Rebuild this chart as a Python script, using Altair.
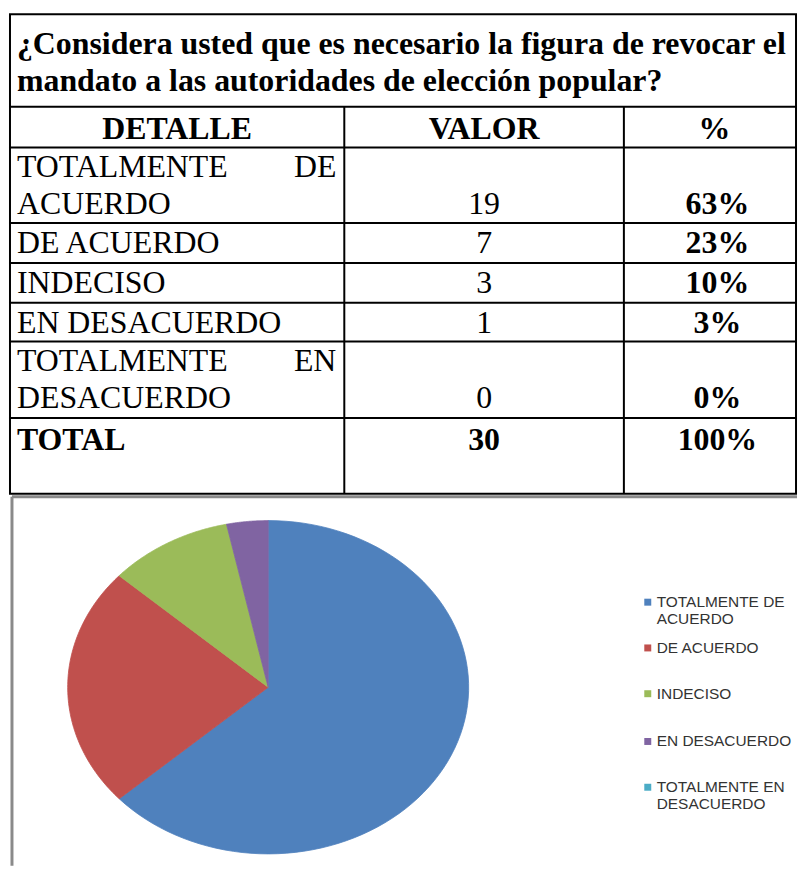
import altair as alt
import pandas as pd

# ---------------- data ----------------
question = ["¿Considera usted que es necesario la figura de revocar el",
            "mandato a las autoridades de elección popular?"]
headers = ["DETALLE", "VALOR", "%"]
categories = ["TOTALMENTE DE ACUERDO", "DE ACUERDO", "INDECISO",
              "EN DESACUERDO", "TOTALMENTE EN DESACUERDO"]
values = [19, 7, 3, 1, 0]
percents = ["63%", "23%", "10%", "3%", "0%"]
total_label = "TOTAL"
total_value = 30
total_percent = "100%"
colors = ["#4F81BD", "#C0504D", "#9BBB59", "#8064A2", "#4BACC6"]

# ---------------- layout (image pixel coords) ----------------
PW, PH = 791, 860            # drawable area (page minus 8px margins)
X0, Y0 = 8, 8
X1, Y1 = X0 + PW, Y0 + PH
XL, XR = 8, X1 - 1
COL1, COL2 = 344, 625
Y_TOP, Y_HEAD = 12, 105
row_tops = [146, 222, 262, 302, 341, 418]
Y_BOT = 494
row_lines = [1 if len(c) < 16 else 2 for c in categories]
CX, CY, RX, RY = 267.5, 688.5, 201.5, 167.5
LEG_SQ_X, LEG_TX = 649, 658
legend_y = [603, 649, 695, 743, 789]
LEG_LH = 16.5

xs = alt.Scale(domain=[X0, X1], nice=False, zero=False)
ys = alt.Scale(domain=[Y0, Y1], nice=False, zero=False, reverse=True)


def X(f):
    return alt.X(f, type="quantitative", scale=xs, axis=None)


def Y(f):
    return alt.Y(f, type="quantitative", scale=ys, axis=None)


SERIF = "Liberation Serif"
FS = 32

# grid lines
hlines = pd.DataFrame({"y": [Y_TOP, Y_HEAD] + row_tops + [Y_BOT]})
hlines["x1"] = XL - 1
hlines["x2"] = X1
vlines = pd.DataFrame({
    "x": [XL, XR, COL1, COL2],
    "y1": [Y_TOP, Y_TOP, Y_HEAD, Y_HEAD],
    "y2": [Y_BOT, Y_BOT, Y_BOT, Y_BOT],
})

h_rule = alt.Chart(hlines).mark_rule(color="black", strokeWidth=2).encode(
    x=X("x1"), x2="x2", y=Y("y"))
v_rule = alt.Chart(vlines).mark_rule(color="black", strokeWidth=2).encode(
    x=X("x"), y=Y("y1"), y2="y2")

# gray frame around the chart area
frame = pd.DataFrame({"x1": [10, 10], "x2": [X1, 10], "y1": [497, 497], "y2": [497, Y1]})
frame_rule = alt.Chart(frame).mark_rule(color="#8a8a8a", strokeWidth=3).encode(
    x=X("x1"), x2="x2", y=Y("y1"), y2="y2")

# title text
title_df = pd.DataFrame({"t": question, "x": [15, 15], "y": [52, 89]})
title_txt = alt.Chart(title_df).mark_text(
    font=SERIF, fontSize=FS, fontWeight="bold", align="left", baseline="alphabetic",
    color="black").encode(x=X("x"), y=Y("y"), text="t")

# headers
head_df = pd.DataFrame({"t": headers,
                        "x": [(XL + COL1) / 2, (COL1 + COL2) / 2, 716],
                        "y": [Y_HEAD + 32] * 3})
head_txt = alt.Chart(head_df).mark_text(
    font=SERIF, fontSize=FS, fontWeight="bold", align="center", baseline="alphabetic",
    color="black").encode(x=X("x"), y=Y("y"), text="t")

# detail texts (left and right justified parts)
left_rows, right_rows, val_rows, pct_rows = [], [], [], []
for i, c in enumerate(categories):
    top = row_tops[i]
    if row_lines[i] == 2:
        words = c.split(" ")
        left_rows.append({"t": words[0], "y": top + 30})
        right_rows.append({"t": words[1], "y": top + 30})
        left_rows.append({"t": " ".join(words[2:]), "y": top + 67})
        ybase = top + 67
    else:
        left_rows.append({"t": c, "y": top + 30})
        ybase = top + 30
    val_rows.append({"t": str(values[i]), "y": ybase})
    pct_rows.append({"t": percents[i], "y": ybase})

left_df = pd.DataFrame(left_rows)
left_df["x"] = 15
right_df = pd.DataFrame(right_rows)
right_df["x"] = COL1 - 8
val_df = pd.DataFrame(val_rows)
val_df["x"] = (COL1 + COL2) / 2
pct_df = pd.DataFrame(pct_rows)
pct_df["x"] = 719

left_txt = alt.Chart(left_df).mark_text(
    font=SERIF, fontSize=FS, align="left", baseline="alphabetic", color="black"
).encode(x=X("x"), y=Y("y"), text="t")
right_txt = alt.Chart(right_df).mark_text(
    font=SERIF, fontSize=FS, align="right", baseline="alphabetic", color="black"
).encode(x=X("x"), y=Y("y"), text="t")
val_txt = alt.Chart(val_df).mark_text(
    font=SERIF, fontSize=FS, align="center", baseline="alphabetic", color="black"
).encode(x=X("x"), y=Y("y"), text="t")
pct_txt = alt.Chart(pct_df).mark_text(
    font=SERIF, fontSize=FS, fontWeight="bold", align="center", baseline="alphabetic",
    color="black").encode(x=X("x"), y=Y("y"), text="t")

tot_df = pd.DataFrame({"t": [total_label, str(total_value), total_percent],
                       "x": [15, (COL1 + COL2) / 2, 719],
                       "a": ["l", "c", "c"],
                       "y": [row_tops[-1] + 32] * 3})
tot_left = alt.Chart(tot_df[tot_df.a == "l"]).mark_text(
    font=SERIF, fontSize=FS, fontWeight="bold", align="left", baseline="alphabetic",
    color="black").encode(x=X("x"), y=Y("y"), text="t")
tot_center = alt.Chart(tot_df[tot_df.a == "c"]).mark_text(
    font=SERIF, fontSize=FS, fontWeight="bold", align="center", baseline="alphabetic",
    color="black").encode(x=X("x"), y=Y("y"), text="t")

# pie (elliptical, built from values through transforms)
pie_df = pd.DataFrame({"cat": categories, "value": values, "order": list(range(len(values)))})
color_scale = alt.Scale(domain=categories, range=colors)
N = 90
pie = (
    alt.Chart(pie_df)
    .transform_filter("datum.value > 0")
    .transform_joinaggregate(total="sum(value)")
    .transform_window(cum="sum(value)", sort=[alt.SortField("order")], frame=[None, 0])
    .transform_calculate(
        a0="2*PI*(datum.cum - datum.value)/datum.total",
        a1="2*PI*datum.cum/datum.total",
        idx=f"sequence(-1, {N + 2})",
    )
    .transform_flatten(["idx"])
    .transform_calculate(
        t=f"datum.a0 + (datum.a1 - datum.a0)*clamp(datum.idx, 0, {N})/{N}",
        r=f"(datum.idx < 0 || datum.idx > {N}) ? 0 : 1",
    )
    .transform_calculate(
        px=f"{CX} + {RX}*datum.r*sin(datum.t)",
        py=f"{CY} - {RY}*datum.r*cos(datum.t)",
    )
    .mark_line(filled=True, strokeWidth=0.8, interpolate="linear")
    .encode(
        x=X("px"), y=Y("py"),
        color=alt.Color("cat:N", scale=color_scale, legend=None),
        stroke=alt.Stroke("cat:N", scale=color_scale, legend=None),
        detail="cat:N",
        order=alt.Order("idx:Q"),
    )
)

# legend
leg_sq = pd.DataFrame({"cat": categories, "y": legend_y})
leg_sq["x"] = LEG_SQ_X
legend_sq = alt.Chart(leg_sq).mark_square(size=49, opacity=1).encode(
    x=X("x"), y=Y("y"),
    color=alt.Color("cat:N", scale=color_scale, legend=None))

leg_lines = []
for i, c in enumerate(categories):
    if len(c) > 16:
        words = c.split(" ")
        leg_lines.append({"t": " ".join(words[:2]), "y": legend_y[i]})
        leg_lines.append({"t": " ".join(words[2:]), "y": legend_y[i] + LEG_LH})
    else:
        leg_lines.append({"t": c, "y": legend_y[i]})
leg_df = pd.DataFrame(leg_lines)
leg_df["x"] = LEG_TX
legend_txt = alt.Chart(leg_df).mark_text(
    font="Liberation Sans", fontSize=15.5, align="left", baseline="middle", color="#333333"
).encode(x=X("x"), y=Y("y"), text="t")

chart = alt.layer(
    frame_rule, pie, legend_sq, legend_txt,
    h_rule, v_rule, title_txt, head_txt,
    left_txt, right_txt, val_txt, pct_txt, tot_left, tot_center,
).properties(width=PW, height=PH, padding=0, background="white").configure_view(
    stroke=None)

chart.save("out.html", embed_options={"renderer": "svg", "actions": False})
